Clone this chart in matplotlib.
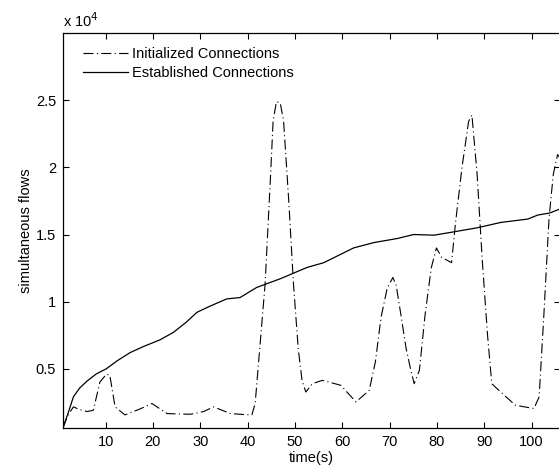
#!/usr/bin/env python
import matplotlib
matplotlib.use('Agg')
import matplotlib.pyplot as plt
from matplotlib.ticker import FuncFormatter

# values, y in flows
est_t = [1, 2, 3.2, 4.5, 6, 8, 10.2, 12.5, 15.2, 18, 21.5, 24.3, 27, 29.3,
         32, 35.6, 38.4, 41.9, 46.9, 52.6, 56.1, 62.4, 66.7, 71.6, 75.1, 79.4,
         83.6, 88.5, 93.5, 99.2, 101.3, 103.8, 106]
est_v = [600, 1600, 2900, 3550, 4050, 4600, 5000, 5600, 6200, 6650, 7150, 7700,
         8450, 9200, 9650, 10200, 10300, 11050, 11700, 12550, 12900, 14000,
         14400, 14700, 15000, 14950, 15200, 15500, 15900, 16150, 16450, 16600,
         16900]

init_t = [1, 2, 3.2, 4.5, 6.1, 7.4, 8.8, 10.2, 10.9, 12, 14.1, 17.3, 19.8, 23,
          27.9, 30.7, 32.8, 36.4, 38.4, 40.9, 41.6, 43.7, 44.8, 45.4, 46.1,
          46.9, 47.6, 48.7, 49.7, 50.7, 51.5, 52.3, 53.7, 55.8, 59.7, 62.9,
          65.7, 67, 68.2, 69.5, 70.7, 71.4, 72.4, 73.5, 74.5, 75.2, 76.3, 77.5,
          78.8, 79.9, 81, 83.1, 83.9, 85.3, 86.7, 87.4, 88.5, 89.6, 90.7, 91.6,
          93.1, 96.6, 100.5, 101.6, 102.6, 103.7, 104.6, 105.5, 106]
init_v = [600, 1500, 2150, 1950, 1800, 1900, 4000, 4600, 4500, 2150, 1550, 2000,
          2400, 1650, 1600, 1800, 2150, 1650, 1600, 1550, 2400, 11300, 19000,
          23500, 24900, 24800, 23500, 17500, 11300, 6500, 4130, 3260, 3880,
          4130, 3760, 2520, 3380, 5500, 8830, 11000, 11800, 11200, 9000, 6500,
          4870, 3880, 4870, 9000, 12500, 14000, 13300, 12900, 15760, 20000,
          23430, 23900, 19470, 13000, 7500, 3880, 3380, 2270, 2030, 2890, 9000,
          16250, 19500, 20960, 20700]

x_ticks = [10, 20, 30, 40, 50, 60, 70, 80, 90, 100]
y_ticks = [5000, 10000, 15000, 20000, 25000]

plt.rcParams['font.family'] = ['Liberation Sans', 'DejaVu Sans']

fig = plt.figure(figsize=(5.59, 4.67), dpi=100)
ax = fig.add_axes([0.1127, 0.0842, 0.889, 0.8445])

ax.plot(init_t, init_v, color='black', linewidth=0.8,
        dashes=(9, 3, 1, 3), label='Initialized Connections')
ax.plot(est_t, est_v, color='black', linewidth=0.9,
        label='Established Connections')

ax.set_xlim(1, 106)
ax.set_ylim(600, 30000)
ax.set_xticks(x_ticks)
ax.set_yticks(y_ticks)
ax.yaxis.set_major_formatter(FuncFormatter(lambda v, p: '%g' % (v / 1e4)))
ax.tick_params(direction='in', top=True, right=True, length=4, width=0.8,
               labelsize=10.5, colors='black', pad=5)
for s in ax.spines.values():
    s.set_linewidth(0.9)

ax.set_xlabel('time(s)', fontsize=10.5, labelpad=2)
ax.set_ylabel('simultaneous flows', fontsize=10.5, labelpad=2)
fig.text(0.1127, 0.936, r'x 10$^4$', fontsize=10.5, ha='left', va='bottom')

ax.legend(loc='upper left', bbox_to_anchor=(0.04, 0.965), frameon=False,
          fontsize=10.5, handlelength=3.1, handletextpad=0.3,
          borderaxespad=0, borderpad=0, labelspacing=0.33)

fig.savefig('out.png', dpi=100)
